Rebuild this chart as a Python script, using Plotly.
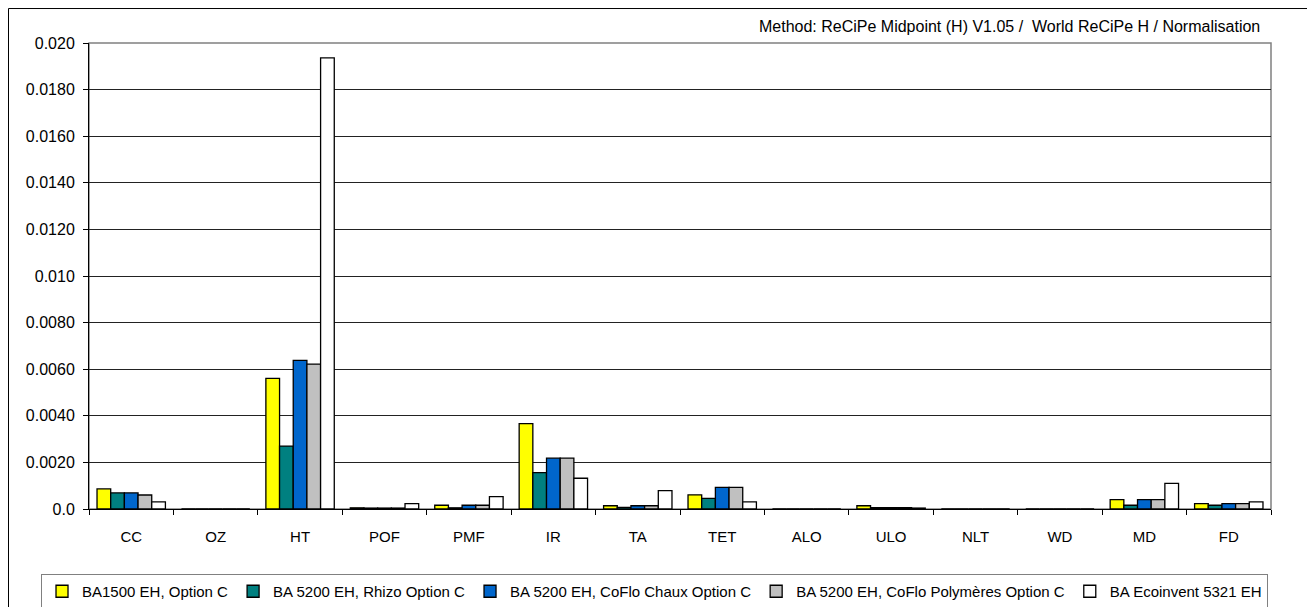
import plotly.graph_objects as go

categories = ["CC", "OZ", "HT", "POF", "PMF", "IR", "TA", "TET", "ALO", "ULO", "NLT", "WD", "MD", "FD"]

series_names = [
    "BA1500 EH, Option C",
    "BA 5200 EH, Rhizo Option C",
    "BA 5200 EH, CoFlo Chaux Option C",
    "BA 5200 EH, CoFlo Polymères Option C",
    "BA Ecoinvent 5321 EH",
]

ba1500 = [0.00086, 0.0, 0.00561, 0.00005, 0.00016, 0.00366, 0.00014, 0.00061, 0.0, 0.00014, 0.0, 0.0, 0.00040, 0.00023]
rhizo = [0.00069, 0.0, 0.00270, 0.00004, 0.00005, 0.00156, 0.00007, 0.00046, 0.0, 0.00006, 0.0, 0.0, 0.00016, 0.00016]
coflo_chaux = [0.00069, 0.0, 0.00638, 0.00004, 0.00016, 0.00218, 0.00014, 0.00093, 0.0, 0.00006, 0.0, 0.0, 0.00040, 0.00023]
coflo_poly = [0.00060, 0.0, 0.00622, 0.00004, 0.00016, 0.00218, 0.00014, 0.00093, 0.0, 0.00006, 0.0, 0.0, 0.00040, 0.00023]
ecoinvent = [0.00031, 0.0, 0.01936, 0.00023, 0.00053, 0.00132, 0.00079, 0.00031, 0.0, 0.00004, 0.0, 0.0, 0.00110, 0.00031]

colors = ["#FFFF00", "#008080", "#0066CC", "#C0C0C0", "#FFFFFF"]

tick_vals = [0, 0.002, 0.004, 0.006, 0.008, 0.010, 0.012, 0.014, 0.016, 0.018, 0.020]
tick_text = ["0.0", "0.0020", "0.0040", "0.0060", "0.0080", "0.010", "0.0120", "0.0140", "0.0160", "0.0180", "0.020"]

font_main = "Liberation Sans, Arial, sans-serif"

fig = go.Figure()
for name, vals, col in zip(series_names, [ba1500, rhizo, coflo_chaux, coflo_poly, ecoinvent], colors):
    fig.add_trace(go.Bar(
        x=categories, y=vals, name=name,
        marker=dict(color=col, line=dict(color="black", width=1.3)),
    ))

# the page body adds an 8px offset, margins are set so the plot area lands where the reference has it
fig.update_layout(
    width=1315, height=607,
    margin=dict(l=81, r=52, t=35, b=106, autoexpand=False),
    paper_bgcolor="white", plot_bgcolor="white",
    barmode="group", bargap=0.19, bargroupgap=0,
    font=dict(family=font_main, size=15, color="black"),
    showlegend=True,
    legend=dict(
        orientation="h", x=-0.0406, y=-0.1395, xanchor="left", yanchor="top",
        bordercolor="#808080", borderwidth=1, bgcolor="white",
        font=dict(family=font_main, size=15, color="black"),
        itemwidth=30, tracegroupgap=0,
    ),
    xaxis=dict(
        showline=True, linecolor="black", linewidth=1,
        ticks="outside", ticklen=5, tickcolor="black", tickson="boundaries",
        ticklabelstandoff=14, showgrid=False,
        tickfont=dict(size=15),
    ),
    yaxis=dict(
        range=[0, 0.020], tickvals=tick_vals, ticktext=tick_text,
        showline=True, linecolor="black", linewidth=1,
        ticks="outside", ticklen=5, tickcolor="black", ticklabelstandoff=5,
        showgrid=True, gridcolor="#222222", gridwidth=1,
        zeroline=False, tickfont=dict(size=16),
    ),
)

# plot area border (gray) and outer chart frame
fig.add_shape(type="rect", xref="paper", yref="paper", x0=0, x1=1, y0=0, y1=1,
              line=dict(color="#808080", width=1.5), layer="between")
fig.add_shape(type="rect", xref="paper", yref="paper", x0=-0.0681, x1=1.0334, y0=-0.25, y1=1.0740,
              line=dict(color="black", width=1), layer="below")

fig.add_annotation(
    text="Method: ReCiPe Midpoint (H) V1.05 /  World ReCiPe H / Normalisation",
    xref="paper", yref="paper", x=0.992, y=1.036, xanchor="right", yanchor="middle",
    showarrow=False, font=dict(family=font_main, size=16, color="black"),
)

fig.write_html("out.html")
